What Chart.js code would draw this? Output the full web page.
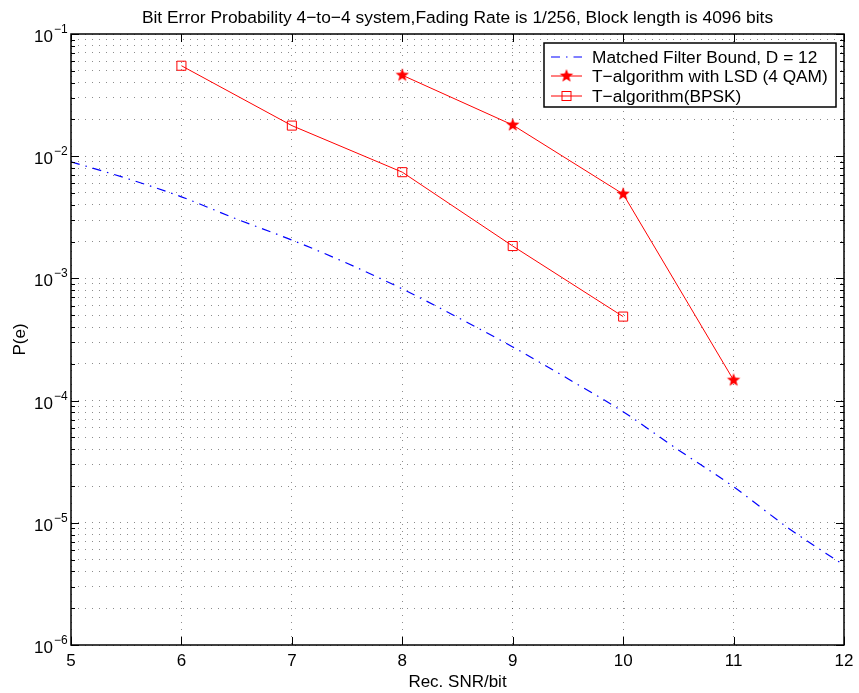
<!DOCTYPE html>
<html>
<head>
<meta charset="utf-8">
<title>Bit Error Probability</title>
<script src="https://cdn.jsdelivr.net/npm/chart.js@4/dist/chart.umd.min.js"></script>
<style>
  html, body { margin: 0; padding: 0; background: #fff; }
  #wrap { width: 859px; height: 693px; }
</style>
</head>
<body>
<div id="wrap"><canvas id="berChart" width="859" height="693"></canvas></div>
<script>
"use strict";

// Matched filter bound, D = 12
const snrBound = [5, 5.5, 6, 6.5, 7, 7.5, 8, 8.5, 9, 9.5, 10, 10.5, 11, 11.5, 12];
const peBound = [9.0e-3, 6.6e-3, 4.65e-3, 3.06e-3, 2.06e-3, 1.33e-3, 8.2e-4, 4.8e-4,
                 2.75e-4, 1.51e-4, 8.1e-5, 3.95e-5, 1.97e-5, 9.0e-6, 4.5e-6];

// T-algorithm with LSD (4 QAM)
const snrLsd = [8, 9, 10, 11];
const peLsd = [0.046, 0.018, 0.0049, 1.47e-4];

// T-algorithm (BPSK)
const snrBpsk = [6, 7, 8, 9, 10];
const peBpsk = [0.055, 0.0178, 0.0074, 0.00184, 0.000487];

const xTicks = [5, 6, 7, 8, 9, 10, 11, 12];
const yExponents = [-6, -5, -4, -3, -2, -1];

const titleText = 'Bit Error Probability 4\u2212to\u22124 system,Fading Rate is 1/256, Block length is 4096 bits';
const xLabel = 'Rec. SNR/bit';
const yLabel = 'P(e)';
const legendLabels = [
    'Matched Filter Bound, D = 12',
    'T\u2212algorithm with LSD (4 QAM)',
    'T\u2212algorithm(BPSK)'
];

// log grid positions: 1..9 x 10^n inside each decade
const yTickValues = [];
yExponents.forEach((e, i) => {
    const last = i === yExponents.length - 1;
    for (let m = 1; m <= (last ? 1 : 9); m++) {
        yTickValues.push(m * Math.pow(10, e));
    }
});

const FONT = '"Liberation Sans", Arial, Helvetica, sans-serif';

function makeStar(r, color) {
    const c = document.createElement('canvas');
    c.width = c.height = Math.ceil(2 * r + 2);
    const g = c.getContext('2d');
    const cx = c.width / 2, cy = c.height / 2;
    g.beginPath();
    for (let i = 0; i < 10; i++) {
        const rad = i % 2 === 0 ? r : r * 0.42;
        const ang = -Math.PI / 2 + i * Math.PI / 5;
        const px = cx + rad * Math.cos(ang), py = cy + rad * Math.sin(ang);
        if (i === 0) g.moveTo(px, py); else g.lineTo(px, py);
    }
    g.closePath();
    g.fillStyle = color;
    g.fill();
    return c;
}

const starImg = makeStar(7, '#ff0000');
const boundDash = [9, 6, 1.5, 6];

function isDecade(v) {
    const l = Math.log10(v);
    return Math.abs(l - Math.round(l)) < 1e-6;
}

function line(ctx, x1, y1, x2, y2) {
    ctx.beginPath();
    ctx.moveTo(x1, y1);
    ctx.lineTo(x2, y2);
    ctx.stroke();
}

// frame, inward ticks, tick labels, titles and the in-axes legend
const axesDecor = {
    id: 'axesDecor',
    afterDraw(chart) {
        const { ctx, chartArea: a, scales: { x, y } } = chart;
        ctx.save();

        ctx.strokeStyle = '#000';
        ctx.lineWidth = 1;
        xTicks.forEach(v => {
            const px = Math.round(x.getPixelForValue(v)) + 0.5;
            line(ctx, px, a.bottom, px, a.bottom - 8);
            line(ctx, px, a.top, px, a.top + 8);
        });
        yTickValues.forEach(v => {
            const py = Math.round(y.getPixelForValue(v)) + 0.5;
            const len = isDecade(v) ? 8 : 4;
            line(ctx, a.left, py, a.left + len, py);
            line(ctx, a.right, py, a.right - len, py);
        });

        ctx.lineWidth = 1.5;
        ctx.strokeRect(a.left, a.top, a.right - a.left, a.bottom - a.top);

        ctx.fillStyle = '#000';
        ctx.textBaseline = 'alphabetic';

        ctx.font = '17px ' + FONT;
        ctx.textAlign = 'center';
        xTicks.forEach(v => {
            ctx.fillText(String(v), x.getPixelForValue(v), a.bottom + 21);
        });

        yExponents.forEach(e => {
            const py = y.getPixelForValue(Math.pow(10, e));
            ctx.font = '17px ' + FONT;
            ctx.textAlign = 'right';
            ctx.fillText('10', a.left - 18, py + 8);
            ctx.font = '12px ' + FONT;
            ctx.textAlign = 'left';
            ctx.fillText('\u2212' + Math.abs(e), a.left - 17, py - 1);
        });

        ctx.font = '17.4px ' + FONT;
        ctx.textAlign = 'center';
        const midX = (a.left + a.right) / 2;
        ctx.fillText(titleText, midX, 23);
        ctx.font = '17px ' + FONT;
        ctx.fillText(xLabel, midX, 687);

        ctx.save();
        ctx.translate(25, (a.top + a.bottom) / 2);
        ctx.rotate(-Math.PI / 2);
        ctx.fillText(yLabel, 0, 0);
        ctx.restore();

        // legend
        const lx = 544, ly = 43, lw = 292, lh = 64;
        ctx.fillStyle = '#fff';
        ctx.fillRect(lx, ly, lw, lh);
        ctx.strokeStyle = '#000';
        ctx.lineWidth = 1.5;
        ctx.strokeRect(lx, ly, lw, lh);

        const rows = [57, 76, 96];
        const s1 = 551, s2 = 582, sm = (s1 + s2) / 2;

        ctx.strokeStyle = '#0000ff';
        ctx.lineWidth = 1.2;
        ctx.setLineDash(boundDash);
        line(ctx, s1, rows[0], s2, rows[0]);
        ctx.setLineDash([]);

        ctx.strokeStyle = '#ff0000';
        ctx.lineWidth = 1;
        line(ctx, s1, rows[1], s2, rows[1]);
        ctx.drawImage(starImg, sm - starImg.width / 2, rows[1] - starImg.height / 2);

        line(ctx, s1, rows[2], s2, rows[2]);
        ctx.strokeRect(sm - 4.5, rows[2] - 4.5, 9, 9);

        ctx.fillStyle = '#000';
        ctx.font = '17.3px ' + FONT;
        ctx.textAlign = 'left';
        ctx.textBaseline = 'middle';
        legendLabels.forEach((t, i) => ctx.fillText(t, 592, rows[i] + 1));

        ctx.restore();
    }
};

const toPoints = (xs, ys) => xs.map((v, i) => ({ x: v, y: ys[i] }));

const gridOpts = {
    color: 'rgba(0,0,0,0.45)',
    lineWidth: 1,
    drawTicks: false
};

new Chart(document.getElementById('berChart').getContext('2d'), {
    type: 'line',
    data: {
        datasets: [
            {
                label: legendLabels[0],
                data: toPoints(snrBound, peBound),
                borderColor: '#0000ff',
                borderWidth: 1.2,
                borderDash: boundDash,
                pointRadius: 0,
                cubicInterpolationMode: 'monotone',
                fill: false
            },
            {
                label: legendLabels[1],
                data: toPoints(snrLsd, peLsd),
                borderColor: '#ff0000',
                borderWidth: 1,
                pointStyle: starImg,
                pointRadius: 7,
                tension: 0,
                fill: false
            },
            {
                label: legendLabels[2],
                data: toPoints(snrBpsk, peBpsk),
                borderColor: '#ff0000',
                backgroundColor: 'rgba(0,0,0,0)',
                borderWidth: 1,
                pointStyle: 'rect',
                pointRadius: 6.4,
                pointBorderWidth: 1,
                pointBorderColor: '#ff0000',
                tension: 0,
                fill: false
            }
        ]
    },
    options: {
        responsive: false,
        animation: false,
        layout: { padding: { left: 71, right: 15, top: 34, bottom: 48 } },
        plugins: {
            legend: { display: false },
            title: { display: false },
            tooltip: { enabled: false }
        },
        scales: {
            x: {
                type: 'linear',
                min: 5,
                max: 12,
                afterBuildTicks: axis => {
                    axis.ticks = xTicks.map(v => ({ value: v }));
                },
                ticks: { display: false },
                grid: gridOpts,
                border: { display: false, dash: [1, 6] }
            },
            y: {
                type: 'logarithmic',
                min: 1e-6,
                max: 1e-1,
                afterBuildTicks: axis => {
                    axis.ticks = yTickValues.map(v => ({ value: v }));
                },
                ticks: { display: false },
                grid: gridOpts,
                border: { display: false, dash: [1, 6] }
            }
        }
    },
    plugins: [axesDecor]
});
</script>
</body>
</html>
